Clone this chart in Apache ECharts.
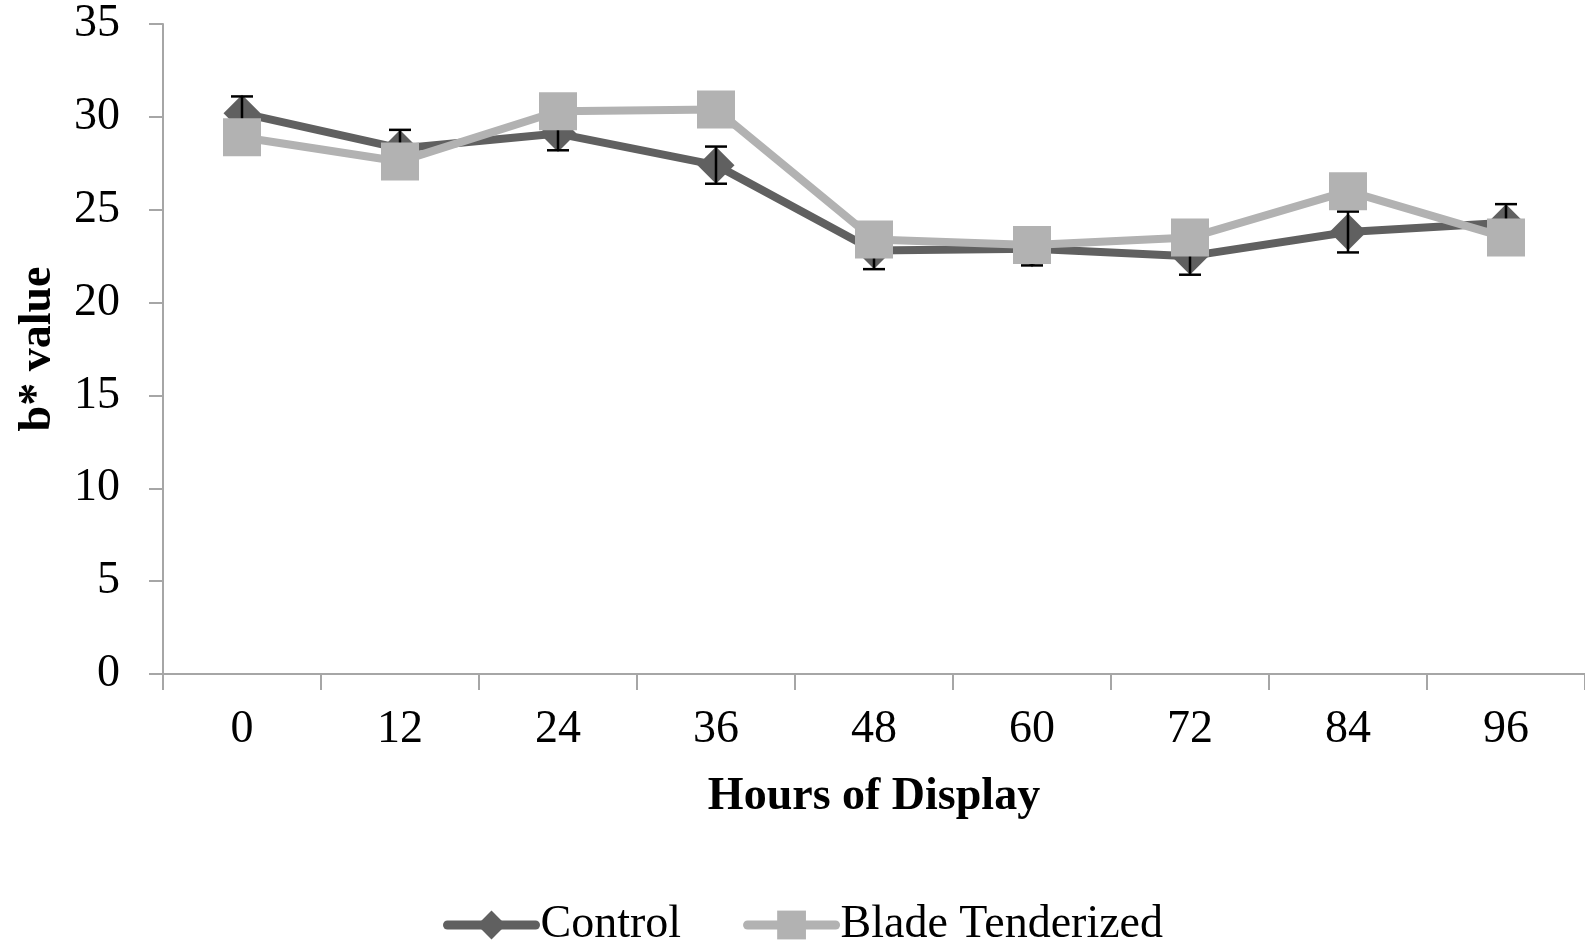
<!DOCTYPE html>
<html>
<head>
<meta charset="utf-8">
<style>
  html, body { margin: 0; padding: 0; background: #fff; }
  #chart { width: 1585px; height: 944px; }
</style>
<script src="https://cdn.jsdelivr.net/npm/echarts@6/dist/echarts.min.js"></script>
</head>
<body>
<div id="chart"></div>
<script>
// Hours of display (categories)
const hours = ['0', '12', '24', '36', '48', '60', '72', '84', '96'];
// b* means per treatment
const control = [30.2, 28.3, 29.1, 27.4, 22.8, 22.9, 22.5, 23.8, 24.3];
const bladeTenderized = [28.9, 27.6, 30.3, 30.4, 23.4, 23.1, 23.5, 26.0, 23.5];
// Standard error of the control means
const controlErr = [0.9, 1.0, 0.9, 1.0, 1.0, 0.9, 1.0, 1.1, 1.0];
// Value axis ticks
const yMin = 0, yMax = 35, yStep = 5;

const FONT = '"Liberation Serif", "Times New Roman", serif';
const DARK = '#606060';
const LIGHT = '#b2b2b2';

const errData = control.map((v, i) => [i, v - controlErr[i], v + controlErr[i]]);

const chart = echarts.init(document.getElementById('chart'), null, { renderer: 'canvas' });

chart.setOption({
  animation: false,
  backgroundColor: '#ffffff',
  grid: { left: 163, right: 0, top: 24, bottom: 270, containLabel: false },
  legend: {
    left: 438,
    top: 897,
    itemWidth: 88,
    itemHeight: 36,
    itemGap: 62,
    lineStyle: { width: 9, cap: 'round' },
    textStyle: { fontFamily: FONT, fontSize: 46, color: '#000' },
    data: ['Control', 'Blade Tenderized']
  },
  xAxis: {
    type: 'category',
    data: hours,
    boundaryGap: true,
    name: 'Hours of Display',
    nameLocation: 'middle',
    nameGap: 100,
    nameTextStyle: { fontFamily: FONT, fontSize: 46, fontWeight: 'bold', color: '#000' },
    axisLine: { lineStyle: { color: '#a6a6a6', width: 2 } },
    axisTick: { show: true, length: 16, lineStyle: { color: '#a6a6a6', width: 2 } },
    axisLabel: { fontFamily: FONT, fontSize: 46, color: '#000', margin: 33 },
    splitLine: { show: false }
  },
  yAxis: {
    type: 'value',
    min: yMin,
    max: yMax,
    interval: yStep,
    name: 'b* value',
    nameLocation: 'middle',
    nameGap: 102,
    nameRotate: 90,
    nameTextStyle: { fontFamily: FONT, fontSize: 46, fontWeight: 'bold', color: '#000' },
    axisLine: { show: true, lineStyle: { color: '#a6a6a6', width: 2 } },
    axisTick: { show: true, length: 14, lineStyle: { color: '#a6a6a6', width: 2 } },
    axisLabel: { fontFamily: FONT, fontSize: 46, color: '#000', margin: 43 },
    splitLine: { show: false }
  },
  series: [
    {
      name: 'Control',
      type: 'line',
      data: control,
      symbol: 'diamond',
      symbolSize: [37, 37],
      lineStyle: { color: DARK, width: 8 },
      itemStyle: { color: DARK },
      z: 2
    },
    {
      name: 'Control SE',
      type: 'custom',
      data: errData,
      z: 3,
      silent: true,
      encode: { x: 0, y: [1, 2] },
      renderItem: function (params, api) {
        const x = api.value(0);
        const lo = api.coord([x, api.value(1)]);
        const hi = api.coord([x, api.value(2)]);
        const half = 11;
        const style = { stroke: '#000', lineWidth: 2.5 };
        return {
          type: 'group',
          children: [
            { type: 'line', shape: { x1: lo[0], y1: lo[1], x2: hi[0], y2: hi[1] }, style: style },
            { type: 'line', shape: { x1: lo[0] - half, y1: lo[1], x2: lo[0] + half, y2: lo[1] }, style: style },
            { type: 'line', shape: { x1: hi[0] - half, y1: hi[1], x2: hi[0] + half, y2: hi[1] }, style: style }
          ]
        };
      }
    },
    {
      name: 'Blade Tenderized',
      type: 'line',
      data: bladeTenderized,
      symbol: 'rect',
      symbolSize: 38,
      lineStyle: { color: LIGHT, width: 8 },
      itemStyle: { color: LIGHT },
      z: 4
    }
  ]
});
</script>
</body>
</html>
